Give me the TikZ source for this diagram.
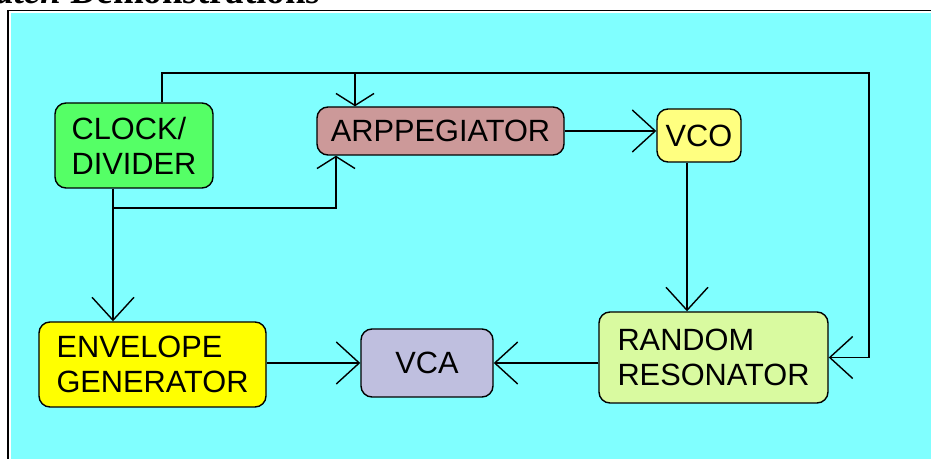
\documentclass[tikz,border=0pt]{standalone}
\usepackage{fontspec}
\setmainfont{Liberation Sans}
\newfontfamily\titlefont{Liberation Serif}
\usetikzlibrary{positioning,arrows.meta}
\definecolor{panelcyan}{RGB}{128,255,255}
\definecolor{clockgreen}{RGB}{85,255,102}
\definecolor{arprose}{RGB}{204,153,153}
\definecolor{vcoyellow}{RGB}{255,255,128}
\definecolor{envyellow}{RGB}{255,255,0}
\definecolor{vcalilac}{RGB}{191,191,223}
\definecolor{randlime}{RGB}{217,250,160}

\begin{document}
\begin{tikzpicture}[
  x=0.02cm, y=-0.02cm,
  block/.style={rectangle, draw, line width=0.8pt, rounded corners=0.22cm,
    inner sep=0pt, align=left,
    font=\fontsize{17.5pt}{20pt}\selectfont},
  arr/.style={-{Straight Barb[length=0.46cm, width=0.84cm]}, line width=0.8pt},
  flatarr/.style={-{Straight Barb[length=0.24cm, width=0.76cm]}, line width=0.8pt},
  wire/.style={line width=0.8pt}
]
\useasboundingbox (0,0) rectangle (931,459);
\fill[white] (0,0) rectangle (931,459);
\node[anchor=base west, inner sep=0pt,
  font=\titlefont\bfseries\fontsize{21pt}{24pt}\selectfont] (title)
  at (-5,3.5) {{\itshape atch} Demonstrations};
\fill[panelcyan] (11,13) rectangle (935,465);
\draw[line width=0.7pt] (940,10.7) -- (8,10.7) -- (8,465);

% blocks
\node[block, fill=clockgreen, minimum width=158*0.02cm, minimum height=85*0.02cm]
  (clock) at (134,145.5) {CLOCK/\\DIVIDER};
\node[block, fill=arprose, minimum width=247*0.02cm, minimum height=48*0.02cm]
  (arp) at (440.5,131) {ARPPEGIATOR};
\node[block, fill=vcoyellow, minimum width=84*0.02cm, minimum height=53*0.02cm]
  (vco) at (699,135.5) {VCO};
\node[block, fill=envyellow, minimum width=227*0.02cm, minimum height=85*0.02cm]
  (env) at (152.5,364.5) {ENVELOPE\\GENERATOR};
\node[block, fill=vcalilac, minimum width=132*0.02cm, minimum height=68*0.02cm]
  (vca) at (427,363) {VCA};
\node[block, fill=randlime, minimum width=229*0.02cm, minimum height=91*0.02cm]
  (rand) at (713.5,357.5) {RANDOM\\RESONATOR};

% branch points
\coordinate (topl)   at (162,73);
\coordinate (topr)   at (869,73);
\coordinate (arptap) at (355,73);
\coordinate (clktap) at (113,208);
\coordinate (arpin)  at (336,208);
\coordinate (vcotap) at (687,0);

% connections
\draw[arr] (clock.north -| topl) -- (topl) -- (topr) |- (rand.east);
\draw[flatarr] (arptap) -- (arp.north -| arptap);
\draw[arr] (clock.south -| clktap) -- (env.north -| clktap);
\draw[flatarr] (clktap) -| (arp.south -| arpin);
\draw[arr] (arp.east) -- (arp.east -| vco.west);
\draw[arr] (vco.south -| vcotap) -- (rand.north -| vcotap);
\draw[arr] (vca.east -| rand.west) -- (vca.east);
\draw[arr] (env.east |- vca.west) -- (vca.west);
\end{tikzpicture}
\end{document}
